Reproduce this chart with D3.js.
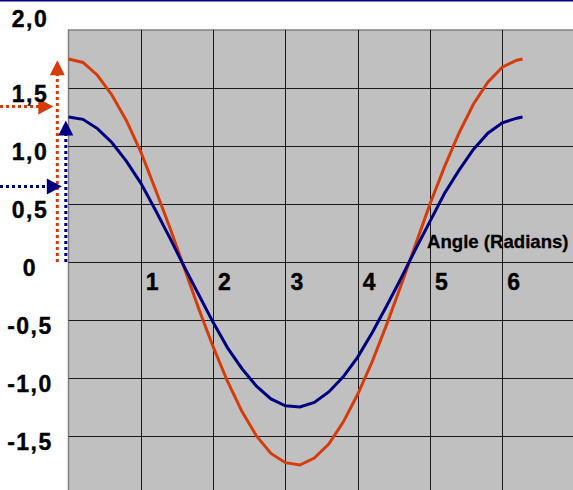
<!DOCTYPE html>
<html>
<head>
<meta charset="utf-8">
<script src="https://cdn.jsdelivr.net/npm/d3@7"></script>
<style>
  body { margin: 0; background: #fff; }
  svg { display: block; }
</style>
</head>
<body>
<svg id="chart" width="573" height="490"></svg>
<script>
// angle in radians
const angles = [0, 0.2, 0.4, 0.6, 0.8, 1.0, 1.2, 1.4, 1.6, 1.8, 2.0, 2.2, 2.4, 2.6, 2.8, 3.0,
  3.2, 3.4, 3.6, 3.8, 4.0, 4.2, 4.4, 4.6, 4.8, 5.0, 5.2, 5.4, 5.6, 5.8, 6.0, 6.2, 6.28]
const orangeValues = [1.75, 1.72, 1.61, 1.44, 1.22, 0.95, 0.63, 0.30, -0.05, -0.40, -0.73, -1.03,
  -1.29, -1.50, -1.65, -1.73, -1.75, -1.69, -1.57, -1.38, -1.14, -0.86, -0.54, -0.20, 0.15, 0.50,
  0.82, 1.11, 1.36, 1.55, 1.68, 1.74, 1.75]
const blueValues = [1.25, 1.23, 1.15, 1.03, 0.87, 0.68, 0.45, 0.21, -0.04, -0.28, -0.52, -0.74,
  -0.92, -1.07, -1.18, -1.24, -1.25, -1.21, -1.12, -0.99, -0.82, -0.61, -0.38, -0.14, 0.11, 0.35,
  0.59, 0.79, 0.97, 1.11, 1.20, 1.24, 1.25]
const xTicks = [1, 2, 3, 4, 5, 6]
const yTicks = [2.0, 1.5, 1.0, 0.5, 0, -0.5, -1.0, -1.5]
const yTickLabels = ["2,0", "1,5", "1,0", "0,5", "0", "-0,5", "-1,0", "-1,5"]
// annotation arrows: [vertical arrow top, horizontal arrow level]
const orangeArrow = [1.74, 1.34]
const blueArrow = [1.22, 0.65]

const orange = "#D63C0A"
const navy = "#000080"
const font = "Liberation Sans, Arial, sans-serif"

const svg = d3.select("#chart")

const x = d3.scaleLinear().domain([0, 6]).range([68.5, 502.3])
const y = d3.scaleLinear().domain([-2, 2]).range([494, 30])

// top rule
svg.append("rect").attr("x", 0).attr("y", 0).attr("width", 573).attr("height", 1.5).attr("fill", navy)

// plot area
svg.append("rect")
  .attr("x", x(0)).attr("y", y(2))
  .attr("width", 573 - x(0) + 5).attr("height", 490 - y(2) + 5)
  .attr("fill", "#C0C0C0").attr("stroke", "#808080").attr("stroke-width", 1.5)

// grid
svg.append("g").selectAll("line").data(yTicks.filter(d => d < 2)).enter().append("line")
  .attr("x1", x(0)).attr("x2", 573)
  .attr("y1", d => Math.round(y(d)) + 0.5).attr("y2", d => Math.round(y(d)) + 0.5)
  .attr("stroke", "#1a1a1a").attr("stroke-width", 1)
svg.append("g").selectAll("line").data(xTicks).enter().append("line")
  .attr("x1", d => Math.round(x(d)) + 0.5).attr("x2", d => Math.round(x(d)) + 0.5)
  .attr("y1", y(2)).attr("y2", 490)
  .attr("stroke", "#1a1a1a").attr("stroke-width", 1)

// curves
const line = d3.line().x(d => x(d[0])).y(d => y(d[1]))
svg.append("path").datum(angles.map((a, i) => [a, orangeValues[i]]))
  .attr("d", line).attr("fill", "none").attr("stroke", orange).attr("stroke-width", 3)
svg.append("path").datum(angles.map((a, i) => [a, blueValues[i]]))
  .attr("d", line).attr("fill", "none").attr("stroke", navy).attr("stroke-width", 3)

// annotation arrows
function arrows(vals, color, vx) {
  const tipY = y(vals[0])
  svg.append("line").attr("x1", vx).attr("x2", vx).attr("y1", y(0)).attr("y2", tipY + 14)
    .attr("stroke", color).attr("stroke-width", 3).attr("stroke-dasharray", "3,3")
  svg.append("path")
    .attr("d", `M${vx},${tipY} L${vx - 7.5},${tipY + 15} L${vx + 7.5},${tipY + 15} Z`)
    .attr("fill", color)
  const hy = y(vals[1])
  const tipX = vx - 4
  svg.append("line").attr("x1", 0).attr("x2", tipX - 14).attr("y1", hy).attr("y2", hy)
    .attr("stroke", color).attr("stroke-width", 3).attr("stroke-dasharray", "3,3")
  svg.append("path")
    .attr("d", `M${tipX},${hy} L${tipX - 15},${hy - 8} L${tipX - 15},${hy + 8} Z`)
    .attr("fill", color)
}
arrows(orangeArrow, orange, 57.3)
arrows(blueArrow, navy, 65.8)

// y labels
svg.append("g").selectAll("text").data(yTicks).enter().append("text")
  .attr("x", 30)
  .attr("y", (d, i) => i === 0 ? y(d) - 3 : y(d) + 14)
  .attr("text-anchor", "middle")
  .attr("font-family", font)
  .attr("font-weight", "bold").attr("font-size", 23).attr("letter-spacing", 1.5)
  .attr("fill", "#000").attr("stroke", "#000").attr("stroke-width", 0.4)
  .text((d, i) => yTickLabels[i])

// x labels
svg.append("g").selectAll("text").data(xTicks).enter().append("text")
  .attr("x", d => x(d) + 5)
  .attr("y", y(0) + 28)
  .attr("font-family", font)
  .attr("font-weight", "bold").attr("font-size", 23)
  .attr("fill", "#000").attr("stroke", "#000").attr("stroke-width", 0.4)
  .text(d => d)

svg.append("text")
  .attr("x", 427).attr("y", 248)
  .attr("font-family", font)
  .attr("font-weight", "bold").attr("font-size", 18.6)
  .attr("fill", "#000").attr("stroke", "#000").attr("stroke-width", 0.3)
  .text("Angle (Radians)")
</script>
</body>
</html>
